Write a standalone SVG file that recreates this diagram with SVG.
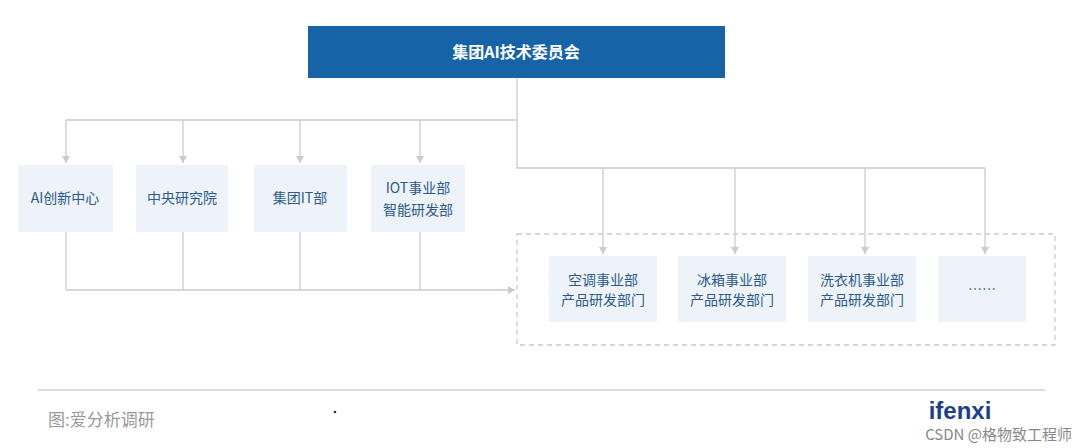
<svg xmlns="http://www.w3.org/2000/svg" width="1080" height="448" viewBox="0 0 1080 448">
<style>
.n{fill:#edf3f9}
.t{font-family:"Noto Sans CJK SC","Liberation Sans",sans-serif;font-size:14px;fill:#2b5a8c;text-anchor:middle}
.c{stroke:#c8ccd0;stroke-width:1.3;fill:none}
</style>
<defs>
<marker id="d" markerWidth="10" markerHeight="10" refX="5" refY="8" markerUnits="userSpaceOnUse"><path d="M1,1 L9,1 L5,8z" fill="#c8ccd0"/></marker>
<marker id="r" markerWidth="10" markerHeight="10" refX="8" refY="5" markerUnits="userSpaceOnUse"><path d="M1,1 L8,5 L1,9z" fill="#c8ccd0"/></marker></defs>
<rect width="1080" height="448" fill="#fff"/>
<g id="connectors">
<path class="c" d="M517,78 V120 M66,120 H517 M517,120 V168 H985"/>
<path class="c" marker-end="url(#d)" d="M66,120 V163"/>
<path class="c" marker-end="url(#d)" d="M183,120 V163"/>
<path class="c" marker-end="url(#d)" d="M300,120 V163"/>
<path class="c" marker-end="url(#d)" d="M420,120 V163"/>
<path class="c" marker-end="url(#d)" d="M603,168 V254"/>
<path class="c" marker-end="url(#d)" d="M735,168 V254"/>
<path class="c" marker-end="url(#d)" d="M865,168 V254"/>
<path class="c" marker-end="url(#d)" d="M985,168 V254"/>
<path class="c" d="M66,232 V290 M183,232 V290 M300,232 V290 M420,232 V290"/>
<path class="c" marker-end="url(#r)" d="M66,290 H515"/>
</g>
<rect x="517" y="234" width="538" height="111" fill="none" stroke="#c8ccd0" stroke-width="1.3" stroke-dasharray="5,4"/>
<g id="top"><rect x="308" y="26" width="417" height="52" fill="#1763a8"/><text x="516" y="58" class="t" style="fill:#fff;font-weight:bold;font-size:16px">集团AI技术委员会</text></g>
<g id="n1"><rect class="n" x="18" y="165" width="95" height="67"/><text class="t" x="65" y="203">AI创新中心</text></g>
<g id="n2"><rect class="n" x="136" y="165" width="92" height="67"/><text class="t" x="182" y="203">中央研究院</text></g>
<g id="n3"><rect class="n" x="254" y="165" width="93" height="67"/><text class="t" x="300" y="203">集团IT部</text></g>
<g id="n4"><rect class="n" x="371" y="165" width="94" height="67"/><text class="t" x="418" y="193">IOT事业部</text><text class="t" x="418" y="215">智能研发部</text></g>
<g id="n5"><rect class="n" x="549" y="256" width="108" height="66"/><text class="t" x="603" y="285">空调事业部</text><text class="t" x="603" y="305">产品研发部门</text></g>
<g id="n6"><rect class="n" x="678" y="256" width="108" height="66"/><text class="t" x="732" y="285">冰箱事业部</text><text class="t" x="732" y="305">产品研发部门</text></g>
<g id="n7"><rect class="n" x="808" y="256" width="108" height="66"/><text class="t" x="862" y="285">洗衣机事业部</text><text class="t" x="862" y="305">产品研发部门</text></g>
<g id="n8"><rect class="n" x="938" y="256" width="88" height="66"/><text class="t" x="982" y="294">……</text></g>
<line x1="38" y1="390" x2="1045" y2="390" stroke="#d0d0d0" stroke-width="1.5"/>
<text x="48" y="426" style="font-family:'Noto Sans CJK SC',sans-serif;font-size:17px;fill:#999">图:爱分析调研</text>
<circle cx="335" cy="412" r="1.3" fill="#333"/>
<text x="960" y="419" style="font-family:'Liberation Sans',sans-serif;font-size:24px;font-weight:bold;fill:#1d3f8a;text-anchor:middle">ifenxi</text>
<text x="1072" y="440" style="font-family:'Noto Sans CJK SC',sans-serif;font-size:15px;fill:#888;text-anchor:end">CSDN @格物致工程师</text>
</svg>
